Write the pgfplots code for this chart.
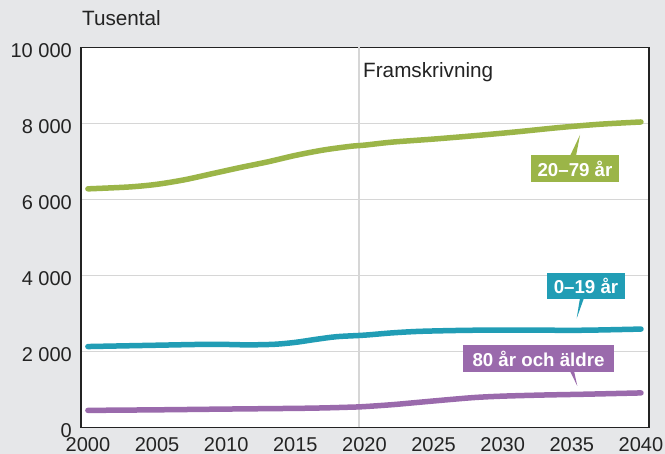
\documentclass[border=0pt]{standalone}
\usepackage{pgfplots}
\usepackage{pgfplotstable}
\pgfplotsset{compat=1.18}
\usepackage{fontspec}
\setmainfont{Liberation Sans}
\definecolor{bg}{RGB}{230,231,233}
\definecolor{cgreen}{RGB}{155,181,72}
\definecolor{cteal}{RGB}{33,157,181}
\definecolor{cpurple}{RGB}{154,106,172}
\definecolor{gridc}{RGB}{214,214,214}
\definecolor{txt}{RGB}{35,35,35}

\pgfplotstableread{
x y
2000 6280
2003 6330
2005 6400
2007 6520
2009 6680
2011 6840
2013 6990
2015 7160
2017 7300
2019 7400
2020 7430
2022 7510
2025 7590
2028 7680
2031 7780
2034 7890
2037 7980
2040 8040
}\greentab

\pgfplotstableread{
x y
2000 2130
2005 2165
2009 2190
2011.5 2175
2013.5 2190
2015 2240
2016.5 2320
2018 2390
2020 2430
2022 2490
2024 2530
2027 2555
2030 2565
2033 2560
2036 2560
2040 2590
}\tealtab

\pgfplotstableread{
x y
2000 450
2005 465
2010 485
2016 508
2019 535
2020 550
2022 600
2024 665
2026 730
2028 790
2030 825
2033 855
2036 876
2040 910
}\purpletab

\begin{document}
\begin{tikzpicture}
\fill[bg] (0pt,0pt) rectangle (665pt,454pt);
\useasboundingbox (0pt,0pt) rectangle (665pt,454pt);
\begin{axis}[
  at={(81pt,26.5pt)}, anchor=south west,
  scale only axis, width=568pt, height=380pt,
  xmin=1999.5, xmax=2040.58, ymin=0, ymax=10000,
  axis background/.style={fill=white},
  axis line style={draw=txt, line width=1.3pt},
  xtick={2000,2005,...,2040},
  ytick={0,2000,...,10000},
  yticklabels={0,2~000,4~000,6~000,8~000,10~000},
  scaled y ticks=false,
  scaled x ticks=false,
  major tick length=0pt,
  ymajorgrids, grid style={gridc, line width=1.3pt},
  tick label style={font=\fontsize{20}{24}\selectfont, text=txt},
  /pgf/number format/assume math mode=true,
  /pgf/number format/1000 sep={},
  xticklabel style={anchor=north, inner sep=0pt, yshift=-10pt},
  yticklabel style={anchor=east, inner sep=0pt, xshift=-9pt, yshift=-3.5pt},
]
\draw[gridc, line width=1.3pt] (axis cs:2019.6,0) -- (axis cs:2019.6,10000);
\addplot[cgreen, line width=5.5pt, line cap=round, smooth, no markers] table {\greentab};
\addplot[cteal, line width=5.5pt, line cap=round, smooth, no markers] table {\tealtab};
\addplot[cpurple, line width=5.5pt, line cap=round, smooth, no markers] table {\purpletab};
\end{axis}
\node[anchor=base west, inner sep=0pt, text=txt, font=\fontsize{20.7}{24}\selectfont] at (82pt,428pt) {Tusental};
\node[anchor=base west, inner sep=0pt, text=txt, font=\fontsize{20.7}{24}\selectfont] at (363pt,376pt) {Framskrivning};
% green label
\fill[cgreen] (570pt,298pt) -- (576pt,298pt) -- (580pt,319pt) -- cycle;
\node[fill=cgreen, text=white, font=\bfseries\fontsize{18.7}{22}\selectfont, minimum width=88pt, minimum height=27pt, inner sep=0pt] at (575pt,285.5pt) {20–79 år};
% teal label
\fill[cteal] (580pt,156pt) -- (584pt,156pt) -- (576.7pt,135.7pt) -- cycle;
\node[fill=cteal, text=white, font=\bfseries\fontsize{18.7}{22}\selectfont, minimum width=78pt, minimum height=26pt, inner sep=0pt] at (586pt,168pt) {0–19 år};
% purple label
\fill[cpurple] (570pt,83pt) -- (574pt,83pt) -- (577.3pt,68pt) -- cycle;
\node[fill=cpurple, text=white, font=\bfseries\fontsize{18.7}{22}\selectfont, minimum width=151pt, minimum height=27pt, inner sep=0pt] at (538.5pt,95.5pt) {80 år och äldre};
\end{tikzpicture}
\end{document}
